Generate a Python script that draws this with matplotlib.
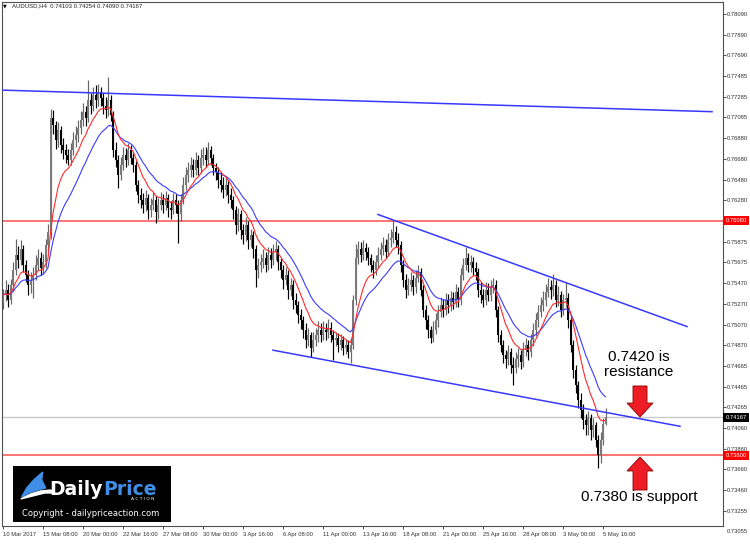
"""
AUDUSD H4 candlestick chart with two EMAs, trend channel and S/R levels.
"""

import numpy as np
import pandas as pd
import matplotlib.pyplot as plt
from matplotlib.patches import FancyArrow, Rectangle, Polygon

# ---- bar data (H4, 10 Mar 16:00 .. 5 May 20:00) ----
first_open = 0.7528
closes = [
    0.7536, 0.7541, 0.7531, 0.7545, 0.7560, 0.7575, 0.7570, 0.7580, 0.7565, 0.7555,
    0.7545, 0.7550, 0.7555, 0.7565, 0.7572, 0.7562, 0.7568, 0.7584, 0.7597, 0.7708,
    0.7701, 0.7686, 0.7696, 0.7682, 0.7677, 0.7672, 0.7667, 0.7677, 0.7686, 0.7691,
    0.7698, 0.7706, 0.7714, 0.7708, 0.7725, 0.7720, 0.7730, 0.7725, 0.7733, 0.7727,
    0.7720, 0.7716, 0.7725, 0.7711, 0.7677, 0.7667, 0.7652, 0.7662, 0.7672, 0.7667,
    0.7677, 0.7669, 0.7662, 0.7643, 0.7633, 0.7628, 0.7623, 0.7630, 0.7618, 0.7623,
    0.7628, 0.7616, 0.7623, 0.7628, 0.7623, 0.7630, 0.7620, 0.7618, 0.7628, 0.7623,
    0.7614, 0.7628, 0.7643, 0.7652, 0.7657, 0.7662, 0.7657, 0.7667, 0.7659, 0.7669,
    0.7672, 0.7667, 0.7677, 0.7669, 0.7659, 0.7655, 0.7648, 0.7643, 0.7638, 0.7643,
    0.7633, 0.7628, 0.7618, 0.7604, 0.7614, 0.7599, 0.7594, 0.7604, 0.7589, 0.7594,
    0.7580, 0.7560, 0.7565, 0.7568, 0.7572, 0.7565, 0.7575, 0.7570, 0.7578, 0.7580,
    0.7568, 0.7560, 0.7550, 0.7555, 0.7541, 0.7545, 0.7531, 0.7526, 0.7516, 0.7511,
    0.7502, 0.7492, 0.7497, 0.7484, 0.7492, 0.7497, 0.7502, 0.7497, 0.7502, 0.7500,
    0.7504, 0.7497, 0.7492, 0.7494, 0.7487, 0.7492, 0.7484, 0.7487, 0.7480, 0.7487,
    0.7531, 0.7572, 0.7580, 0.7575, 0.7581, 0.7578, 0.7572, 0.7565, 0.7560, 0.7568,
    0.7575, 0.7580, 0.7584, 0.7578, 0.7589, 0.7591, 0.7597, 0.7589, 0.7584, 0.7565,
    0.7550, 0.7541, 0.7545, 0.7550, 0.7543, 0.7552, 0.7558, 0.7541, 0.7521, 0.7511,
    0.7502, 0.7494, 0.7502, 0.7511, 0.7519, 0.7526, 0.7521, 0.7531, 0.7526, 0.7533,
    0.7529, 0.7539, 0.7531, 0.7555, 0.7565, 0.7572, 0.7565, 0.7568, 0.7562, 0.7558,
    0.7541, 0.7536, 0.7531, 0.7541, 0.7536, 0.7543, 0.7545, 0.7521, 0.7497, 0.7487,
    0.7477, 0.7473, 0.7480, 0.7468, 0.7465, 0.7473, 0.7477, 0.7471, 0.7482, 0.7487,
    0.7480, 0.7492, 0.7502, 0.7511, 0.7519, 0.7526, 0.7531, 0.7539, 0.7543, 0.7541,
    0.7545, 0.7531, 0.7536, 0.7521, 0.7531, 0.7533, 0.7511, 0.7487, 0.7463, 0.7448,
    0.7434, 0.7424, 0.7414, 0.7409, 0.7416, 0.7404, 0.7409, 0.7395, 0.7380, 0.7395,
    0.74103, 0.74167,
]
highs = [
    0.7542, 0.7550, 0.7546, 0.7551, 0.7568, 0.7590, 0.7583, 0.7589, 0.7584, 0.7570,
    0.7560, 0.7558, 0.7563, 0.7575, 0.7580, 0.7578, 0.7576, 0.7590, 0.7605, 0.7717,
    0.7716, 0.7705, 0.7704, 0.7700, 0.7688, 0.7683, 0.7678, 0.7684, 0.7694, 0.7700,
    0.7706, 0.7715, 0.7722, 0.7720, 0.7745, 0.7732, 0.7738, 0.7740, 0.7741, 0.7738,
    0.7732, 0.7728, 0.7748, 0.7730, 0.7715, 0.7685, 0.7672, 0.7670, 0.7680, 0.7679,
    0.7684, 0.7682, 0.7674, 0.7666, 0.7648, 0.7640, 0.7635, 0.7638, 0.7634, 0.7630,
    0.7636, 0.7632, 0.7630, 0.7636, 0.7634, 0.7637, 0.7634, 0.7627, 0.7635, 0.7634,
    0.7628, 0.7634, 0.7650, 0.7660, 0.7665, 0.7670, 0.7668, 0.7675, 0.7672, 0.7678,
    0.7680, 0.7680, 0.7685, 0.7681, 0.7673, 0.7664, 0.7660, 0.7655, 0.7650, 0.7650,
    0.7648, 0.7640, 0.7632, 0.7622, 0.7620, 0.7618, 0.7605, 0.7612, 0.7608, 0.7600,
    0.7598, 0.7584, 0.7572, 0.7576, 0.7580, 0.7578, 0.7582, 0.7581, 0.7585, 0.7588,
    0.7584, 0.7572, 0.7565, 0.7563, 0.7560, 0.7552, 0.7550, 0.7538, 0.7530, 0.7522,
    0.7515, 0.7508, 0.7504, 0.7500, 0.7500, 0.7504, 0.7510, 0.7508, 0.7510, 0.7508,
    0.7512, 0.7509, 0.7502, 0.7500, 0.7499, 0.7498, 0.7496, 0.7493, 0.7492, 0.7494,
    0.7536, 0.7585, 0.7588, 0.7587, 0.7589, 0.7586, 0.7582, 0.7576, 0.7570, 0.7575,
    0.7582, 0.7587, 0.7592, 0.7590, 0.7596, 0.7600, 0.7609, 0.7603, 0.7596, 0.7588,
    0.7570, 0.7556, 0.7552, 0.7558, 0.7555, 0.7560, 0.7565, 0.7562, 0.7545, 0.7526,
    0.7516, 0.7506, 0.7510, 0.7518, 0.7526, 0.7534, 0.7532, 0.7538, 0.7537, 0.7540,
    0.7539, 0.7546, 0.7543, 0.7562, 0.7572, 0.7582, 0.7577, 0.7575, 0.7573, 0.7568,
    0.7562, 0.7548, 0.7542, 0.7548, 0.7547, 0.7550, 0.7552, 0.7550, 0.7525, 0.7502,
    0.7492, 0.7482, 0.7487, 0.7484, 0.7475, 0.7480, 0.7484, 0.7482, 0.7490, 0.7494,
    0.7492, 0.7498, 0.7508, 0.7518, 0.7526, 0.7534, 0.7540, 0.7546, 0.7552, 0.7550,
    0.7556, 0.7550, 0.7544, 0.7540, 0.7537, 0.7548, 0.7538, 0.7516, 0.7492, 0.7468,
    0.7452, 0.7440, 0.7430, 0.7420, 0.7423, 0.7420, 0.7416, 0.7412, 0.7400, 0.7402,
    0.7416, 0.74254,
]
lows = [
    0.7522, 0.7530, 0.7524, 0.7527, 0.7540, 0.7555, 0.7562, 0.7565, 0.7558, 0.7548,
    0.7536, 0.7538, 0.7533, 0.7550, 0.7560, 0.7555, 0.7556, 0.7562, 0.7578, 0.7590,
    0.7692, 0.7678, 0.7680, 0.7674, 0.7668, 0.7664, 0.7662, 0.7662, 0.7672, 0.7680,
    0.7685, 0.7692, 0.7700, 0.7700, 0.7704, 0.7712, 0.7715, 0.7718, 0.7720, 0.7720,
    0.7712, 0.7708, 0.7710, 0.7705, 0.7670, 0.7660, 0.7640, 0.7648, 0.7657, 0.7660,
    0.7662, 0.7663, 0.7655, 0.7637, 0.7625, 0.7620, 0.7615, 0.7617, 0.7610, 0.7612,
    0.7618, 0.7606, 0.7610, 0.7618, 0.7615, 0.7618, 0.7612, 0.7610, 0.7614, 0.7615,
    0.7586, 0.7608, 0.7624, 0.7638, 0.7646, 0.7650, 0.7650, 0.7652, 0.7652, 0.7654,
    0.7662, 0.7660, 0.7662, 0.7662, 0.7652, 0.7648, 0.7640, 0.7636, 0.7630, 0.7632,
    0.7625, 0.7620, 0.7610, 0.7595, 0.7598, 0.7590, 0.7585, 0.7588, 0.7580, 0.7582,
    0.7572, 0.7543, 0.7552, 0.7558, 0.7562, 0.7558, 0.7560, 0.7562, 0.7565, 0.7570,
    0.7560, 0.7552, 0.7542, 0.7545, 0.7532, 0.7535, 0.7522, 0.7518, 0.7508, 0.7503,
    0.7494, 0.7484, 0.7486, 0.7475, 0.7480, 0.7486, 0.7490, 0.7490, 0.7492, 0.7492,
    0.7494, 0.7490, 0.7472, 0.7486, 0.7480, 0.7482, 0.7477, 0.7478, 0.7474, 0.7470,
    0.7483, 0.7526, 0.7566, 0.7568, 0.7570, 0.7570, 0.7565, 0.7558, 0.7552, 0.7555,
    0.7562, 0.7570, 0.7575, 0.7572, 0.7574, 0.7582, 0.7586, 0.7582, 0.7576, 0.7558,
    0.7543, 0.7533, 0.7536, 0.7540, 0.7536, 0.7538, 0.7548, 0.7535, 0.7514, 0.7503,
    0.7494, 0.7489, 0.7490, 0.7498, 0.7505, 0.7514, 0.7514, 0.7516, 0.7518, 0.7520,
    0.7522, 0.7524, 0.7524, 0.7526, 0.7550, 0.7560, 0.7558, 0.7558, 0.7555, 0.7550,
    0.7534, 0.7528, 0.7524, 0.7526, 0.7530, 0.7530, 0.7538, 0.7514, 0.7490, 0.7480,
    0.7470, 0.7465, 0.7468, 0.7460, 0.7448, 0.7460, 0.7466, 0.7464, 0.7466, 0.7476,
    0.7472, 0.7475, 0.7486, 0.7496, 0.7505, 0.7514, 0.7520, 0.7525, 0.7534, 0.7532,
    0.7535, 0.7524, 0.7525, 0.7514, 0.7516, 0.7524, 0.7504, 0.7480, 0.7455, 0.7440,
    0.7426, 0.7416, 0.7405, 0.7400, 0.7400, 0.7395, 0.7398, 0.7388, 0.7367, 0.7372,
    0.7390, 0.74090,
]

x_labels = ['10 Mar 2017', '15 Mar 08:00', '20 Mar 00:00', '22 Mar 16:00',
            '27 Mar 08:00', '30 Mar 00:00', '3 Apr 16:00', '6 Apr 08:00',
            '11 Apr 00:00', '13 Apr 16:00', '18 Apr 08:00', '21 Apr 00:00',
            '25 Apr 16:00', '28 Apr 08:00', '3 May 00:00', '5 May 16:00']
bars_per_label = 16

y_ticks = [0.78090, 0.77890, 0.77690, 0.77485, 0.77285, 0.77085, 0.76880,
           0.76680, 0.76480, 0.76280, 0.76080, 0.75875, 0.75675, 0.75470,
           0.75270, 0.75070, 0.74870, 0.74665, 0.74465, 0.74265, 0.74060,
           0.73860, 0.73660, 0.73460, 0.73255]
bottom_tick = 0.73055

resistance_level = 0.76080
support_level = 0.73800
last_price = 0.74167

# trendlines: (bar index, price) end points
top_line = ([-0.4, 283.6], [0.7735, 0.7714])
upper_channel = ([150.0, 273.6], [0.7614, 0.7505])
lower_channel = ([108.0, 270.8], [0.7482, 0.7408])

fast_span, slow_span = 10, 20

# ---- build ----
closes = np.array(closes)
highs = np.array(highs)
lows = np.array(lows)
opens = np.r_[first_open, closes[:-1]]
idx = np.arange(len(closes))
up = closes >= opens

ema_fast = pd.Series(closes).ewm(span=fast_span, adjust=False).mean()
ema_slow = pd.Series(closes).ewm(span=slow_span, adjust=False).mean()

plt.rcParams['font.family'] = ['Liberation Sans', 'DejaVu Sans']

fig = plt.figure(figsize=(7.5, 5.47), dpi=100)
ax = fig.add_axes([2 / 750, 1 - 526 / 547, 721 / 750, 524 / 547])
ax.set_xlim(-0.4, 288)
ax.set_ylim(0.73110, 0.78207)

# levels
ax.axhline(resistance_level, color='#ff5c5c', lw=1.2, zorder=1)
ax.axhline(support_level, color='#ff5c5c', lw=1.2, zorder=1)
ax.axhline(last_price, color='#c8c8c8', lw=1.0, zorder=1)

# candles
ax.vlines(idx[up], lows[up], highs[up], color='#666666', lw=0.85, zorder=2)
ax.vlines(idx[~up], lows[~up], highs[~up], color='black', lw=0.85, zorder=2)
body = np.maximum(np.abs(closes - opens), 0.00004)
ax.bar(idx, body, bottom=np.minimum(opens, closes), width=0.8,
       color=np.where(up, '#7a7a7a', 'black'), linewidth=0, zorder=2)

# moving averages
ax.plot(idx, ema_slow, color='#3c3cff', lw=0.8, zorder=3)
ax.plot(idx, ema_fast, color='#ff2a2a', lw=0.8, zorder=3)

# trendlines
for xs, ys in (top_line, upper_channel, lower_channel):
    ax.plot(xs, ys, color='#3838ff', lw=1.1, zorder=3)

# axes styling
for s in ax.spines.values():
    s.set_color('#505050')
    s.set_linewidth(0.8)
ax.yaxis.tick_right()
ax.set_yticks(y_ticks)
# the resistance level label gets its own red box below
ax.set_yticklabels(['' if v == resistance_level else f'{v:.5f}' for v in y_ticks])
ax.tick_params(axis='y', direction='out', length=1.8, width=0.6, pad=1.2,
               labelsize=4.2, colors='#303030')
ax.set_xticks(idx[::bars_per_label][:len(x_labels)])
ax.set_xticklabels(x_labels, ha='left')
ax.tick_params(axis='x', direction='out', length=1.8, width=0.6, pad=2.5,
               labelsize=4.2, colors='#303030')

ax.annotate(f'{bottom_tick:.5f}', xy=(1, bottom_tick),
            xycoords=('axes fraction', 'data'), xytext=(3, 0),
            textcoords='offset points', ha='left', va='center',
            fontsize=4.2, color='#303030', annotation_clip=False)

for val, fc in ((resistance_level, '#ff0000'), (last_price, 'black'),
                (support_level, '#ff0000')):
    ax.annotate(f'{val:.5f}', xy=(1, val), xycoords=('axes fraction', 'data'),
                xytext=(1.8, 0), textcoords='offset points', ha='left',
                va='center', fontsize=4.2, color='white', zorder=5,
                annotation_clip=False,
                bbox=dict(boxstyle='square,pad=0.35', fc=fc, ec='none'))

# header
fig.text(3 / 750, 1 - 6 / 547, '\u25bc', fontsize=3.5, va='center',
         family='DejaVu Sans')
fig.text(11.5 / 750, 1 - 6 / 547,
         'AUDUSD,H4  0.74103 0.74254 0.74090 0.74167',
         fontsize=4.3, va='center', color='#202020')

# annotations
ax.text(254.3, 0.7468, '0.7420 is\nresistance', fontsize=11, ha='center',
        va='center', linespacing=1.05, zorder=5)
ax.text(254.4, 0.73392, '0.7380 is support', fontsize=11, ha='center',
        va='center', zorder=5)
arrow_kw = dict(width=5.6, head_width=10.4, head_length=0.00136,
                length_includes_head=True, fc='#ee1c24', ec='#8a0000',
                lw=0.6, zorder=5)
ax.add_patch(FancyArrow(254.8, 0.74472, 0, -0.00302, **arrow_kw))
ax.add_patch(FancyArrow(254.8, 0.73460, 0, 0.00321, **arrow_kw))

# logo
lax = fig.add_axes([12.7 / 750, 1 - 522 / 547, 158 / 750, 56 / 547])
lax.set_xlim(0, 158)
lax.set_ylim(56, 0)
lax.axis('off')
lax.add_patch(Rectangle((0, 0), 158, 56, color='black'))
lax.add_patch(Polygon([(9, 31), (14, 22), (21, 14), (30, 6), (29, 14),
                       (33, 22), (25, 24), (16, 27)], color='#3f8fe8'))
lax.add_patch(Polygon([(8, 33), (18, 28), (28, 25), (38, 24), (42, 27),
                       (32, 27), (20, 30)], color='white'))
lax.text(37, 29, 'Daily', color='white', fontsize=13.5, fontweight='bold',
         va='baseline', family='DejaVu Sans')
lax.text(91, 29, 'Price', color='#3f8fe8', fontsize=13.5, fontweight='bold',
         va='baseline', family='DejaVu Sans')
lax.text(142, 33.5, 'A C T I O N', color='white', fontsize=3.2,
         ha='right', va='center', family='DejaVu Sans')
lax.text(78, 47, 'Copyright - dailypriceaction.com', color='white',
         fontsize=6, ha='center', va='center', family='DejaVu Sans')

fig.savefig('out.png', dpi=100)
